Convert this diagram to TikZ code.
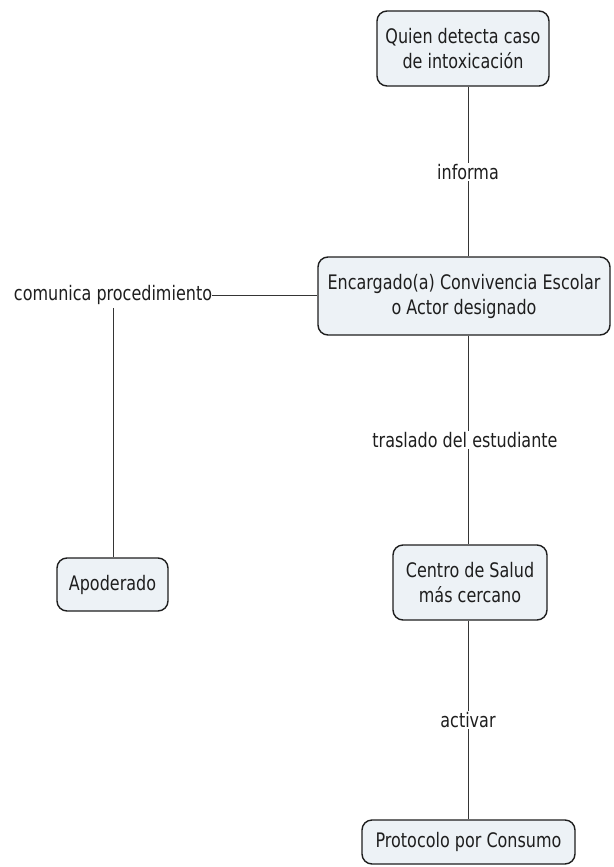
\documentclass[tikz,border=0pt]{standalone}
\usepackage{fontspec}
\setmainfont{DejaVu Sans}[FakeStretch=0.8]
\definecolor{boxfill}{HTML}{EDF2F6}
\definecolor{ink}{HTML}{1E1E1E}
\begin{document}
\begin{tikzpicture}[x=1pt,y=-1pt,
  box/.style={draw=ink, line width=1.4pt, fill=boxfill, rounded corners=10pt,
    align=center, text=ink, font=\fontsize{20}{25}\selectfont, inner sep=0pt},
  lbl/.style={fill=white, text=ink, font=\fontsize{20}{22}\selectfont, inner sep=1.5pt},
  conn/.style={draw=ink!90, line width=1pt}]
\useasboundingbox (0,0) rectangle (613,867);
\node[box, minimum width=172pt, minimum height=75pt] (q) at (463,48.5) {Quien detecta caso\\de intoxicación};
\node[box, minimum width=292pt, minimum height=78pt] (enc) at (464,296) {Encargado(a) Convivencia Escolar\\o Actor designado};
\node[box, minimum width=111pt, minimum height=53pt] (apo) at (112.5,584.5) {Apoderado};
\node[box, minimum width=154pt, minimum height=75pt] (cen) at (470,582.5) {Centro de Salud\\más cercano};
\node[box, minimum width=213pt, minimum height=44pt] (pro) at (468.5,842) {Protocolo por Consumo};
\node[lbl] (inf) at (468,172) {informa};
\node[lbl] (tra) at (465,440) {traslado del estudiante};
\node[lbl] (act) at (468,720) {activar};
\node[lbl, inner sep=0pt] (com) at (113,295) {comunica procedimiento};
\draw[conn] (q.south -| inf) -- (inf) -- (enc.north -| inf);
\draw[conn] (enc.south -| inf) -- (tra.north -| inf);
\draw[conn] (tra.south -| inf) -- (cen.north -| inf);
\draw[conn] (cen.south -| inf) -- (act) -- (pro.north -| inf);
\draw[conn] (com.east) -- (enc.west |- com.east);
\draw[conn] ([yshift=-3pt]com.south) -- (apo.north -| com.south);
\end{tikzpicture}
\end{document}
